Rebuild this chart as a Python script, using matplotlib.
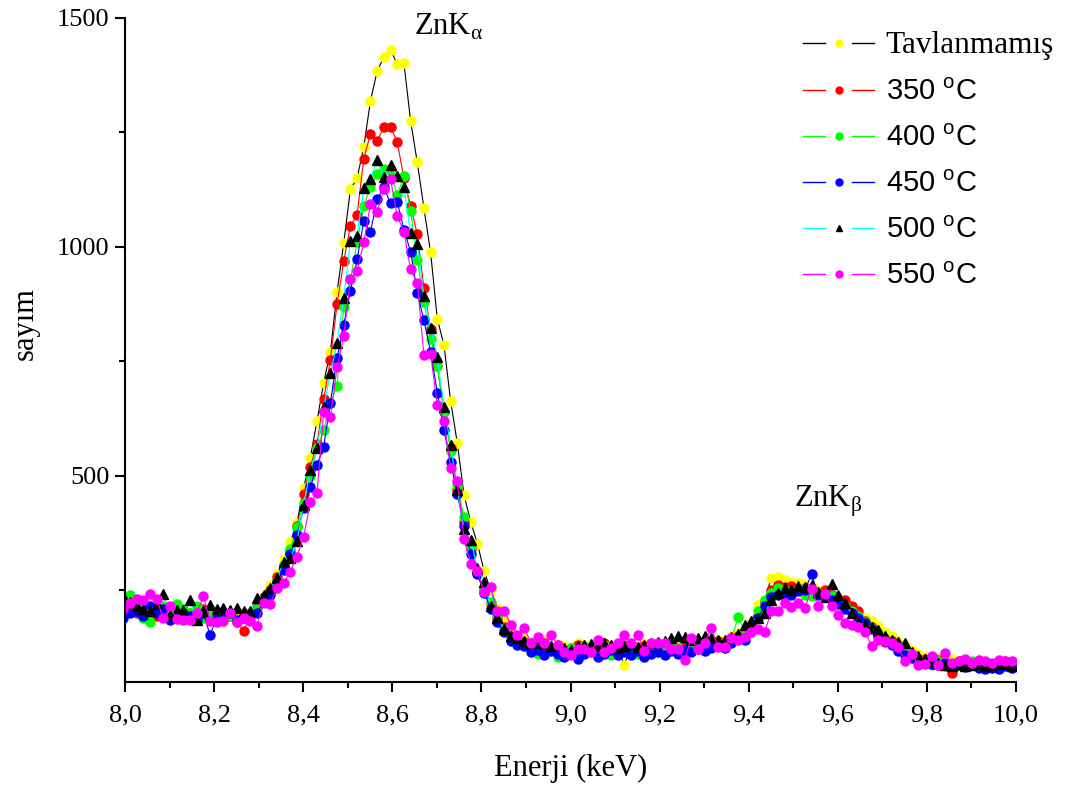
import numpy as np
import matplotlib
matplotlib.use("Agg")
import matplotlib.pyplot as plt
from matplotlib.lines import Line2D
from matplotlib.legend_handler import HandlerBase
from matplotlib.ticker import MultipleLocator, FuncFormatter

plt.rcParams["font.family"] = ["Liberation Serif", "DejaVu Serif"]
plt.rcParams["mathtext.fontset"] = "custom"
plt.rcParams["mathtext.rm"] = "Liberation Serif"
plt.rcParams["mathtext.sf"] = "Liberation Sans"

# channel energies (keV)
energy = 7.996 + 0.015 * np.arange(134)

labels = ["Tavlanmamış", "350 $^{\\mathsf{o}}$C", "400 $^{\\mathsf{o}}$C",
          "450 $^{\\mathsf{o}}$C", "500 $^{\\mathsf{o}}$C", "550 $^{\\mathsf{o}}$C"]

counts_untreated = [
    215, 205, 222, 210, 200, 218, 205, 195, 212, 200,
    195, 205, 190, 185, 200, 180, 195, 205, 190, 200,
    205, 228, 262, 285, 318, 355, 398, 473, 540, 620,
    704, 771, 901, 1009, 1126, 1150, 1219, 1319, 1384, 1415,
    1431, 1399, 1402, 1276, 1185, 1085, 988, 843, 786, 663,
    571, 458, 400, 352, 293, 250, 212, 185, 165, 150,
    145, 138, 130, 142, 125, 132, 128, 120, 135, 125,
    130, 125, 135, 128, 120, 88, 130, 128, 135, 122,
    128, 132, 138, 130, 125, 135, 132, 140, 138, 142,
    140, 150, 158, 165, 180, 218, 230, 278, 280, 273,
    268, 266, 262, 258, 250, 245, 240, 230, 222, 210,
    197, 190, 184, 172, 160, 150, 140, 130, 120, 112,
    105, 98, 102, 95, 100, 92, 96, 90, 98, 94,
    92, 95, 90, 88,
]

counts_350 = [
    205, 215, 200, 220, 208, 195, 212, 200, 205, 190,
    200, 195, 210, 185, 190, 200, 195, 180, 162, 195,
    215, 235, 250, 280, 305, 335, 390, 460, 520, 570,
    668, 753, 875, 969, 1046, 1070, 1193, 1247, 1231, 1262,
    1262, 1230, 1150, 1090, 1028, 910, 820, 739, 640, 560,
    470, 400, 340, 290, 250, 218, 190, 170, 150, 140,
    138, 130, 125, 135, 122, 128, 118, 125, 130, 122,
    120, 128, 135, 118, 125, 130, 122, 115, 128, 120,
    125, 122, 130, 118, 128, 132, 125, 130, 135, 140,
    135, 145, 150, 160, 175, 195, 225, 250, 262, 258,
    260, 250, 255, 248, 245, 250, 240, 232, 228, 216,
    205, 184, 170, 150, 138, 140, 128, 118, 110, 100,
    100, 95, 98, 90, 69, 95, 88, 92, 96, 90,
    88, 92, 95, 90,
]

counts_400 = [
    220, 240, 215, 189, 182, 210, 215, 205, 220, 210,
    200, 215, 190, 195, 205, 185, 195, 180, 190, 200,
    210, 230, 245, 270, 305, 340, 389, 440, 500, 560,
    600, 660, 696, 868, 930, 1010, 1090, 1130, 1160, 1170,
    1165, 1113, 1155, 1079, 972, 880, 800, 740, 640, 555,
    480, 410, 345, 290, 255, 225, 195, 165, 150, 140,
    135, 125, 112, 130, 120, 105, 118, 125, 110, 128,
    115, 125, 130, 110, 122, 128, 118, 112, 125, 130,
    122, 118, 128, 125, 115, 120, 128, 125, 130, 135,
    130, 142, 191, 162, 175, 205, 230, 245, 255, 250,
    245, 250, 240, 238, 242, 235, 238, 225, 215, 205,
    195, 180, 168, 158, 145, 135, 125, 115, 105, 98,
    92, 88, 95, 85, 90, 88, 92, 95, 85, 90,
    90, 95, 88, 92,
]

counts_450 = [
    189, 200, 205, 195, 215, 200, 210, 185, 195, 200,
    195, 185, 200, 153, 190, 195, 200, 185, 190, 195,
    200, 225, 240, 268, 295, 330, 370, 430, 475, 524,
    564, 660, 757, 830, 904, 973, 1057, 1033, 1104, 1130,
    1095, 1099, 1038, 990, 900, 840, 771, 682, 600, 530,
    460, 390, 330, 285, 245, 210, 180, 160, 140, 130,
    128, 115, 120, 108, 118, 112, 105, 115, 100, 112,
    118, 105, 112, 120, 108, 115, 110, 118, 105, 112,
    115, 110, 118, 112, 120, 115, 122, 118, 125, 128,
    125, 135, 145, 141, 168, 190, 215, 235, 240, 245,
    240, 248, 250, 286, 240, 235, 228, 220, 210, 200,
    190, 178, 165, 150, 140, 130, 118, 110, 102, 95,
    95, 90, 88, 92, 85, 88, 82, 90, 80, 78,
    80, 78, 85, 80,
]

counts_500 = [
    238, 225, 215, 210, 205, 220, 242, 197, 207, 207,
    229, 186, 205, 218, 210, 211, 208, 211, 206, 204,
    233, 240, 255, 277, 311, 320, 358, 437, 513, 560,
    650, 724, 791, 889, 1014, 1025, 1128, 1148, 1190, 1153,
    1180, 1156, 1130, 1030, 1006, 894, 824, 760, 650, 568,
    470, 384, 360, 300, 269, 215, 190, 165, 150, 145,
    140, 135, 138, 132, 128, 130, 125, 120, 128, 130,
    132, 128, 135, 130, 125, 128, 132, 126, 130, 135,
    138, 140, 145, 150, 148, 142, 145, 150, 146, 142,
    142, 148, 155, 175, 184, 190, 200, 229, 245, 255,
    250, 260, 258, 262, 247, 236, 264, 240, 222, 200,
    182, 175, 170, 164, 150, 142, 138, 135, 115, 106,
    100, 95, 92, 88, 85, 90, 85, 88, 92, 86,
    88, 92, 90, 86,
]

counts_550 = [
    210, 222, 231, 229, 242, 231, 189, 216, 187, 186,
    186, 200, 237, 184, 181, 184, 200, 182, 189, 184,
    173, 222, 220, 255, 266, 291, 324, 367, 442, 462,
    640, 628, 737, 806, 930, 947, 1010, 1094, 1077, 1126,
    1148, 1068, 1033, 951, 922, 764, 766, 655, 621, 517,
    490, 362, 308, 293, 246, 257, 204, 206, 175, 153,
    167, 136, 149, 136, 153, 131, 116, 109, 121, 123,
    116, 142, 116, 125, 136, 153, 135, 153, 118, 135,
    135, 135, 122, 122, 98, 146, 122, 135, 167, 127,
    127, 146, 142, 149, 160, 165, 160, 204, 205, 223,
    214, 222, 211, 253, 215, 242, 215, 197, 178, 175,
    171, 160, 129, 142, 140, 135, 126, 95, 111, 87,
    89, 106, 88, 113, 91, 95, 100, 92, 98, 95,
    92, 98, 95, 95,
]

series = [counts_untreated, counts_350, counts_400, counts_450, counts_500, counts_550]
line_colors = ["#000000", "#ff0000", "#00ff00", "#0000ff", "#00ffff", "#ff00ff"]
marker_colors = ["#ffff00", "#ff0000", "#00ff00", "#0000ff", "#000000", "#ff00ff"]
markers = ["o", "o", "o", "o", "^", "o"]


class GapLineHandler(HandlerBase):
    """Legend key: short line, marker, short line."""

    def create_artists(self, legend, orig_handle, xdescent, ydescent,
                       width, height, fontsize, trans):
        y = height / 2.0 - ydescent
        x0 = -xdescent
        seg = width * 0.31
        kw = dict(color=orig_handle.get_color(), lw=1.0)
        left = Line2D([x0, x0 + seg], [y, y], **kw)
        right = Line2D([x0 + width - seg, x0 + width], [y, y], **kw)
        mark = Line2D([x0 + width / 2.0], [y], ls="none",
                      marker=orig_handle.get_marker(),
                      markerfacecolor=orig_handle.get_markerfacecolor(),
                      markeredgecolor=orig_handle.get_markeredgecolor(),
                      markersize=5)
        for a in (left, right, mark):
            a.set_transform(trans)
        return [left, right, mark]


fig = plt.figure(figsize=(10.74, 7.89), dpi=100)
ax = fig.add_axes([125 / 1074, (789 - 682) / 789, 891 / 1074, 664 / 789])

handles = []
for y, lab, lc, mc, mk in zip(series, labels, line_colors, marker_colors, markers):
    ms = 7.0 if mk == "^" else 6.5
    h, = ax.plot(energy, y, color=lc, lw=0.8, marker=mk, ms=ms,
                 markerfacecolor=mc, markeredgecolor=mc, label=lab)
    handles.append(h)

ax.set_xlim(8.0, 10.0)
ax.set_ylim(50, 1500)

ax.xaxis.set_major_locator(MultipleLocator(0.2))
ax.xaxis.set_minor_locator(MultipleLocator(0.1))
ax.yaxis.set_major_locator(MultipleLocator(500))
ax.yaxis.set_minor_locator(MultipleLocator(250))
ax.xaxis.set_major_formatter(FuncFormatter(lambda v, p: f"{v:.1f}".replace(".", ",")))
ax.yaxis.set_major_formatter(FuncFormatter(lambda v, p: f"{v:.0f}"))

for side in ("top", "right"):
    ax.spines[side].set_visible(False)
for side in ("left", "bottom"):
    ax.spines[side].set_linewidth(1.5)

ax.tick_params(which="major", direction="out", length=7, width=1.5,
               labelsize=19, pad=4)
ax.tick_params(axis="x", which="major", pad=9)
ax.tick_params(which="minor", direction="out", length=4, width=1.5)

ax.set_xlabel("Enerji (keV)", fontsize=22, labelpad=20)
ax.set_ylabel("sayım", fontsize=22)
ax.yaxis.set_label_coords(-0.096, 0.54)

ax.text(8.649, 1463, "ZnK$_{\\mathrm{\\alpha}}$", fontsize=22, ha="left", va="baseline")
ax.text(9.502, 432, "ZnK$_{\\mathrm{\\beta}}$", fontsize=22, ha="left", va="baseline")

leg = ax.legend(handles=handles, loc="upper left",
                bbox_to_anchor=(803 / 1074, 1 - 31 / 789),
                bbox_transform=fig.transFigure, frameon=False,
                handler_map={Line2D: GapLineHandler()},
                prop={"family": "Liberation Sans", "size": 21},
                handlelength=2.45, handletextpad=0.38, labelspacing=0.62,
                borderpad=0, borderaxespad=0)
texts = leg.get_texts()
texts[0].set_fontfamily("Liberation Serif")
texts[0].set_fontsize(22.5)

fig.savefig("out.png", dpi=100)
